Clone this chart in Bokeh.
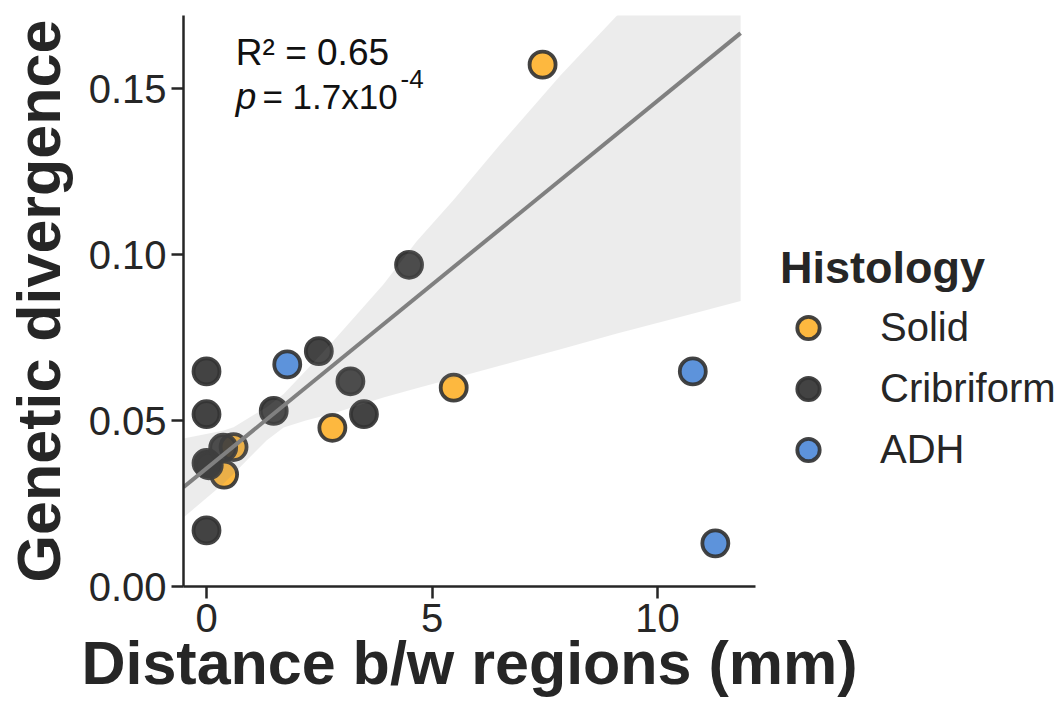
from bokeh.plotting import figure
from bokeh.models import (Range1d, FixedTicker, NumeralTickFormatter, Legend,
                          LegendItem, Label)
from bokeh.embed import file_html
from bokeh.resources import INLINE

# ---- data ----
solid_x = [7.45, 5.48, 2.79, 0.60, 0.39]
solid_y = [0.1572, 0.0599, 0.0478, 0.0420, 0.0337]

crib_x = [4.49, 2.49, 3.19, 3.49, 1.49, 0.0, 0.0, 0.0, 0.05, 0.37, 0.0]
crib_y = [0.0969, 0.0709, 0.0618, 0.0519, 0.0529, 0.0648, 0.0519, 0.0372, 0.0365, 0.0418, 0.0169]

adh_x = [1.79, 10.78, 11.28]
adh_y = [0.0669, 0.0648, 0.0130]

fit_x = [-0.51, 11.84]
fit_y = [0.0299, 0.1667]

band_x = [-0.51, 0.38, 0.6, 1.33, 1.71, 2.2, 2.82, 3.92, 4.66, 5.48, 6.5, 7.85, 9.1, 10.5, 11.84]
band_upper = [0.0446, 0.0470, 0.0480, 0.0540, 0.0580, 0.0650, 0.0741, 0.0910, 0.1040, 0.1165, 0.1330, 0.1540, 0.1720, 0.1920, 0.2110]
band_lower = [0.0208, 0.0310, 0.0340, 0.0440, 0.0479, 0.0500, 0.0522, 0.0569, 0.0597, 0.0627, 0.0665, 0.0715, 0.0762, 0.0812, 0.0860]

categories = ["Solid", "Cribriform", "ADH"]
colors = ["#FDB22F", "#333333", "#4F8AD8"]

x_ticks = [0, 5, 10]
y_ticks = [0.0, 0.05, 0.10, 0.15]

FONT = "Liberation Sans"
TXT = "#262626"

p = figure(frame_width=572, frame_height=571, output_backend="svg", toolbar_location=None,
           x_range=Range1d(-0.51, 12.17), y_range=Range1d(0, 0.172),
           min_border_left=183, min_border_right=0, min_border_top=15,
           min_border_bottom=118)
p.outline_line_color = None
p.grid.visible = False
p.background_fill_color = "white"

# points
renderers = []
for xs, ys, c in [(solid_x, solid_y, colors[0]), (crib_x, crib_y, colors[1]),
                  (adh_x, adh_y, colors[2])]:
    r = p.scatter(xs, ys, size=26, fill_color=c, line_color="#333333",
                  line_width=3.8, fill_alpha=0.92, line_alpha=0.92)
    renderers.append(r)

# confidence band and regression line
p.varea(x=band_x, y1=band_lower, y2=band_upper, fill_color="#808080", fill_alpha=0.15)
p.line(fit_x, fit_y, line_color="#808080", line_width=4)

# axes
for ax in (p.xaxis[0], p.yaxis[0]):
    ax.axis_line_width = 2.5
    ax.axis_line_color = TXT
    ax.major_tick_line_width = 2.5
    ax.major_tick_line_color = TXT
    ax.major_tick_out = 12
    ax.major_tick_in = 0
    ax.minor_tick_line_color = None
    ax.major_label_text_font = FONT
    ax.major_label_text_font_size = "40px"
    ax.major_label_text_color = TXT
    ax.axis_label_text_font = FONT
    ax.axis_label_text_font_style = "bold"
    ax.axis_label_text_font_size = "61px"
    ax.axis_label_text_color = TXT

p.xaxis.ticker = FixedTicker(ticks=x_ticks)
p.yaxis.ticker = FixedTicker(ticks=y_ticks)
p.yaxis.formatter = NumeralTickFormatter(format="0.00")
p.xaxis.axis_label = "Distance b/w regions (mm)"
p.yaxis.axis_label = "Genetic divergence"
p.xaxis.major_label_standoff = 5
p.xaxis.axis_label_standoff = -6
p.yaxis.major_label_standoff = 5
p.yaxis.axis_label_standoff = 13

# legend (in the right side panel)
legend = Legend(items=[LegendItem(label=lab, renderers=[r]) for lab, r in zip(categories, renderers)],
                location=(25, 106), title="Histology",
                glyph_width=56, glyph_height=61, spacing=0, padding=0, margin=0,
                label_standoff=44, label_text_font=FONT, label_text_font_size="40px",
                label_text_color=TXT, title_text_font=FONT, title_text_font_style="bold",
                title_text_font_size="45px", title_text_color=TXT, title_standoff=3,
                border_line_color=None, background_fill_alpha=0)
p.add_layout(legend, "right")

# annotations
p.add_layout(Label(x=0.65, y=0.1610, text="R² = 0.65", text_font=FONT,
                   text_font_size="37px", text_color="#111111", text_baseline="alphabetic"))
p.add_layout(Label(x=0.65, y=0.1476, text="p", text_font=FONT, text_font_style="italic",
                   text_font_size="37px", text_color="#111111", text_baseline="alphabetic"))
p.add_layout(Label(x=1.24, y=0.1476, text="= 1.7x10", text_font=FONT,
                   text_font_size="35px", text_color="#111111", text_baseline="alphabetic"))
p.add_layout(Label(x=4.30, y=0.1530, text="-4", text_font=FONT,
                   text_font_size="26px", text_color="#111111", text_baseline="alphabetic"))

open("out.html", "w").write(file_html(p, INLINE))
